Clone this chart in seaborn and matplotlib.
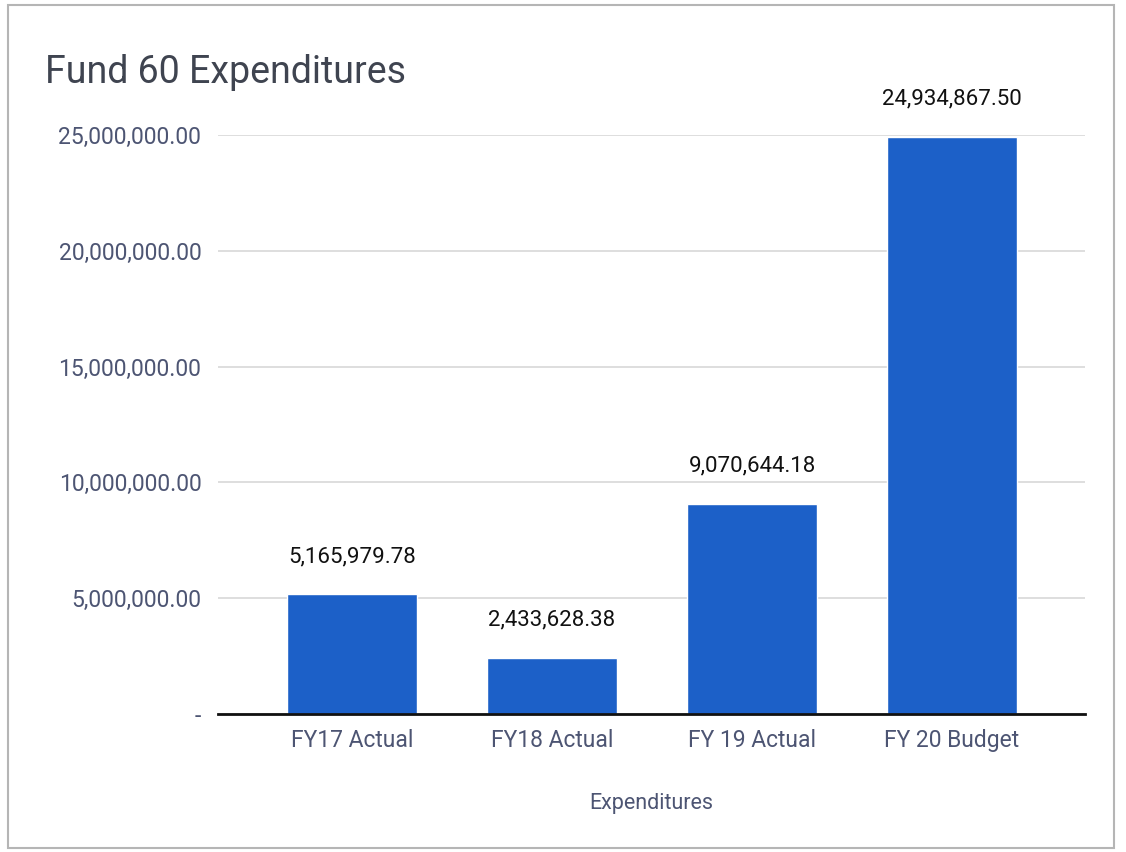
import matplotlib
matplotlib.use('Agg')
import matplotlib.pyplot as plt
import matplotlib.ticker as mticker
from matplotlib.patches import Rectangle
import seaborn as sns
import pandas as pd

# Data
categories = ['FY17 Actual', 'FY18 Actual', 'FY 19 Actual', 'FY 20 Budget']
amounts = [5165979.78, 2433628.38, 9070644.18, 24934867.50]
y_ticks = [0, 5000000, 10000000, 15000000, 20000000, 25000000]

df = pd.DataFrame({'category': categories, 'amount': amounts})

sns.set_theme(style='white')
plt.rcParams['font.family'] = ['Roboto', 'DejaVu Sans']

fig = plt.figure(figsize=(11.26, 8.52), dpi=100)
ax = fig.add_axes([0.1936, 0.162, 0.77, 0.6795])

sns.barplot(x='category', y='amount', data=df, color='#1c60c8', width=0.65,
            saturation=1, ax=ax, zorder=3)

ax.set_ylim(0, 25000000)
ax.set_xlim(-0.67, 3.665)
ax.set_yticks(y_ticks)
ax.yaxis.set_major_formatter(mticker.FuncFormatter(
    lambda v, p: '-' if v == 0 else f'{v:,.2f}'))
ax.tick_params(axis='y', length=0, pad=12, labelsize=16.5, labelcolor='#4d5573')
ax.tick_params(axis='x', length=0, pad=11, labelsize=16.5, labelcolor='#4d5573')
ax.grid(axis='y', color='#d8d8d8', linewidth=1.2, zorder=0)
for s in ['top', 'right', 'left']:
    ax.spines[s].set_visible(False)
ax.spines['bottom'].set_color('#111111')
ax.spines['bottom'].set_linewidth(2)
ax.spines['bottom'].set_zorder(4)

for i, v in enumerate(amounts):
    ax.annotate(f'{v:,.2f}', (i, v), xytext=(0, 27), textcoords='offset points',
                ha='center', va='center', fontsize=16, color='#111111')

ax.set_xlabel('Expenditures', fontsize=15.5, color='#4d5573', labelpad=29)
ax.set_ylabel('')

fig.text(0.04, 0.915, 'Fund 60 Expenditures', fontsize=27, color='#3f4450',
         ha='left', va='center')

# light frame around the scanned chart
fig.patches.append(Rectangle((0.007, 0.005), 0.982, 0.989, transform=fig.transFigure,
                             fill=False, edgecolor='#b5b5b5', linewidth=1.5))

fig.savefig('out.png', dpi=100)
